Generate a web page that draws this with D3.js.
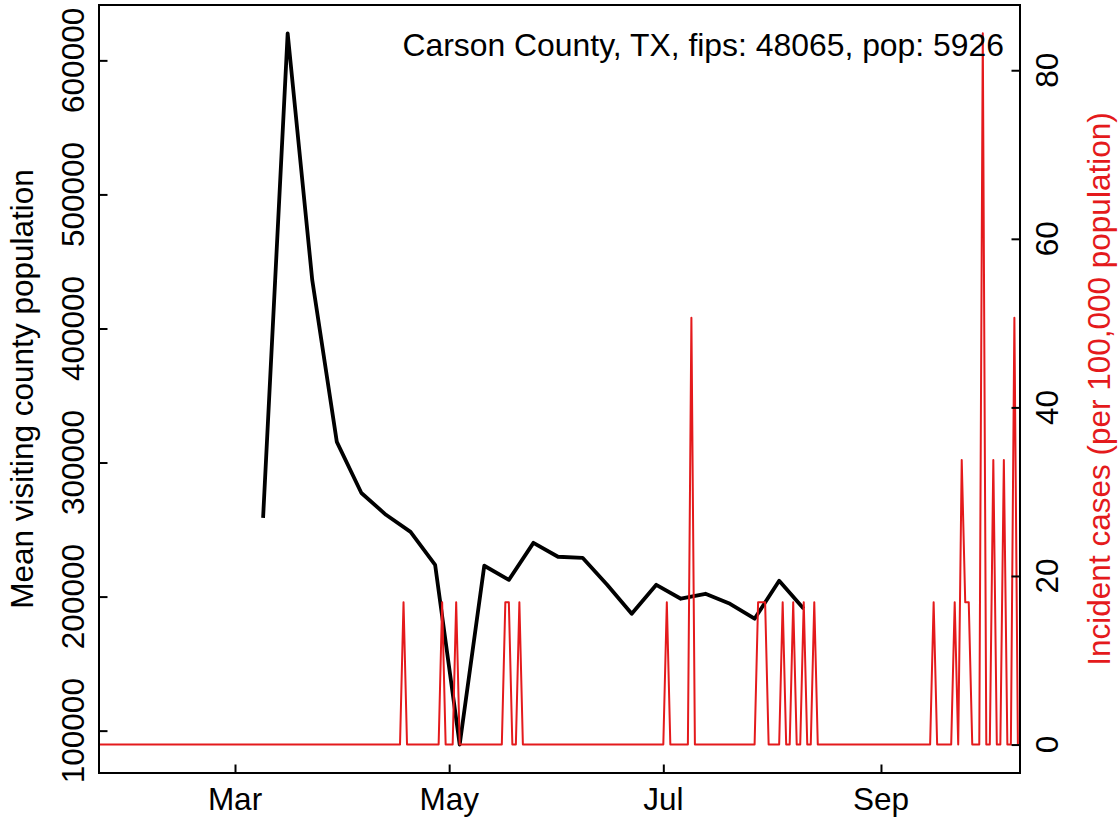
<!DOCTYPE html>
<html><head><meta charset="utf-8">
<script src="https://cdn.jsdelivr.net/npm/d3@7"></script>
<style>
html,body{margin:0;padding:0;background:#fff}
svg{display:block}
text{font-family:"Liberation Sans",Arial,Helvetica,sans-serif}
</style>
</head><body>
<svg id="chart" width="1119" height="822"></svg>
<script>
// ---------------- data ----------------
const titleText = "Carson County, TX, fips: 48065, pop: 5926";
const countyPop = 5926;
const leftTitle = "Mean visiting county population";
const rightTitle = "Incident cases (per 100,000 population)";

// weekly mean visiting county population (black line)
const visitDates = ["2020-03-09","2020-03-16","2020-03-23","2020-03-30","2020-04-06","2020-04-13",
  "2020-04-20","2020-04-27","2020-05-04","2020-05-11","2020-05-18","2020-05-25","2020-06-01",
  "2020-06-08","2020-06-15","2020-06-22","2020-06-29","2020-07-06","2020-07-13","2020-07-20",
  "2020-07-27","2020-08-03","2020-08-10"];
const visitValues = [258700, 620100, 436100, 315400, 277300, 261000,
  248300, 223700, 89600, 223000, 212500, 240100, 229700,
  228900, 208800, 187200, 208800, 198400, 202100, 194600,
  183500, 211800, 190900];

// daily new cases starting 2020-01-22 (red line, converted to per 100,000)
const caseStart = "2020-01-22";
const dailyCases = [
  0,0,0,0,0,0,0,0,0,0, 0,0,0,0,0,0,0,0,0,0,
  0,0,0,0,0,0,0,0,0,0, 0,0,0,0,0,0,0,0,0,0,
  0,0,0,0,0,0,0,0,0,0, 0,0,0,0,0,0,0,0,0,0,
  0,0,0,0,0,0,0,0,0,0, 0,0,0,0,0,0,0,0,0,0,
  0,0,0,0,0,0,0,1,0,0, 0,0,0,0,0,0,0,0,1,0,
  0,0,1,0,0,0,0,0,0,0, 0,0,0,0,0,0,1,1,0,0,
  1,0,0,0,0,0,0,0,0,0, 0,0,0,0,0,0,0,0,0,0,
  0,0,0,0,0,0,0,0,0,0, 0,0,0,0,0,0,0,0,0,0,
  0,0,1,0,0,0,0,0,0,3, 0,0,0,0,0,0,0,0,0,0,
  0,0,0,0,0,0,0,0,1,1, 1,0,0,0,0,1,0,0,1,0,
  0,1,0,0,1,0,0,0,0,0, 0,0,0,0,0,0,0,0,0,0,
  0,0,0,0,0,0,0,0,0,0, 0,0,0,0,0,0,0,0,1,0,
  0,0,0,0,1,0,2,1,1,0, 0,0,5,0,0,2,0,0,2,0,
  0,3,0
];

const leftTicks = [100000, 200000, 300000, 400000, 500000, 600000];
const rightTicks = [0, 20, 40, 60, 80];
const monthTickDates = ["2020-03-01","2020-05-01","2020-07-01","2020-09-01"];
const monthLabels = ["Mar","May","Jul","Sep"];

// ---------------- layout ----------------
const L = 99, R = 1020, T = 5, B = 773;
const FS = 31.5;
const RED = "#E41A1C";
const svg = d3.select("#chart");
svg.append("rect").attr("width",1119).attr("height",822).attr("fill","#fff");

const parse = d3.utcParse("%Y-%m-%d");
const x = d3.scaleUtc()
  .domain([new Date(Date.UTC(2020,0,22,6,14)), new Date(Date.UTC(2020,9,10,14,24))])
  .range([L, R]);
const yL = d3.scaleLinear().domain([68400, 641300]).range([B, T]);
const yR = d3.scaleLinear().domain([-3.375, 87.74]).range([B, T]);

svg.append("clipPath").attr("id","clip")
  .append("rect").attr("x",L).attr("y",T).attr("width",R-L).attr("height",B-T);

const visitData = visitDates.map((d,i)=>({date:parse(d), v:visitValues[i]}));
const start = parse(caseStart);
const caseData = dailyCases.map((c,i)=>({date:d3.utcDay.offset(start,i), v:c/countyPop*100000}));

// black line
svg.append("path").datum(visitData)
  .attr("clip-path","url(#clip)")
  .attr("fill","none").attr("stroke","#000").attr("stroke-width",3.8)
  .attr("stroke-linejoin","round").attr("stroke-linecap","butt")
  .attr("d", d3.line().x(d=>x(d.date)).y(d=>yL(d.v)));

// red line
svg.append("path").datum(caseData)
  .attr("clip-path","url(#clip)")
  .attr("fill","none").attr("stroke",RED).attr("stroke-width",2)
  .attr("stroke-linejoin","round")
  .attr("d", d3.line().x(d=>x(d.date)).y(d=>yR(d.v)));

// axes (ticks inward)
const TL = 8.5;
const axL = svg.append("g").attr("transform",`translate(${L},0)`)
  .call(d3.axisLeft(yL).tickValues(leftTicks).tickSize(-TL).tickFormat(""));
const axR = svg.append("g").attr("transform",`translate(${R},0)`)
  .call(d3.axisRight(yR).tickValues(rightTicks).tickSize(-TL).tickFormat(""));
const axB = svg.append("g").attr("transform",`translate(0,${B})`)
  .call(d3.axisBottom(x).tickValues(monthTickDates.map(parse)).tickSize(-TL).tickFormat(""));
[axL,axR,axB].forEach(g=>{
  g.select(".domain").remove();
  g.selectAll(".tick line").attr("stroke","#000").attr("stroke-width",2);
});

// box
svg.append("rect").attr("x",L).attr("y",T).attr("width",R-L).attr("height",B-T)
  .attr("fill","none").attr("stroke","#000").attr("stroke-width",2);

// tick labels
svg.append("g").selectAll("text").data(leftTicks).join("text")
  .attr("transform",d=>`translate(84,${yL(d)}) rotate(-90)`)
  .attr("text-anchor","middle").attr("font-size",FS).attr("fill","#000")
  .text(d=>String(d));
svg.append("g").selectAll("text").data(rightTicks).join("text")
  .attr("transform",d=>`translate(1058,${yR(d)}) rotate(-90)`)
  .attr("text-anchor","middle").attr("font-size",FS).attr("fill","#000")
  .text(d=>String(d));
svg.append("g").selectAll("text").data(monthTickDates).join("text")
  .attr("x",d=>x(parse(d))).attr("y",810)
  .attr("text-anchor","middle").attr("font-size",FS).attr("fill","#000")
  .text((d,i)=>monthLabels[i]);

// axis titles
svg.append("text").attr("transform",`translate(33,${(T+B)/2}) rotate(-90)`)
  .attr("text-anchor","middle").attr("font-size",FS).attr("fill","#000").text(leftTitle);
svg.append("text").attr("transform",`translate(1110,${(T+B)/2}) rotate(-90)`)
  .attr("text-anchor","middle").attr("font-size",FS).attr("fill",RED).text(rightTitle);

// title
svg.append("text").attr("x",1004).attr("y",56).attr("text-anchor","end")
  .attr("font-size",31.9).attr("fill","#000").text(titleText);
</script>
</body></html>
